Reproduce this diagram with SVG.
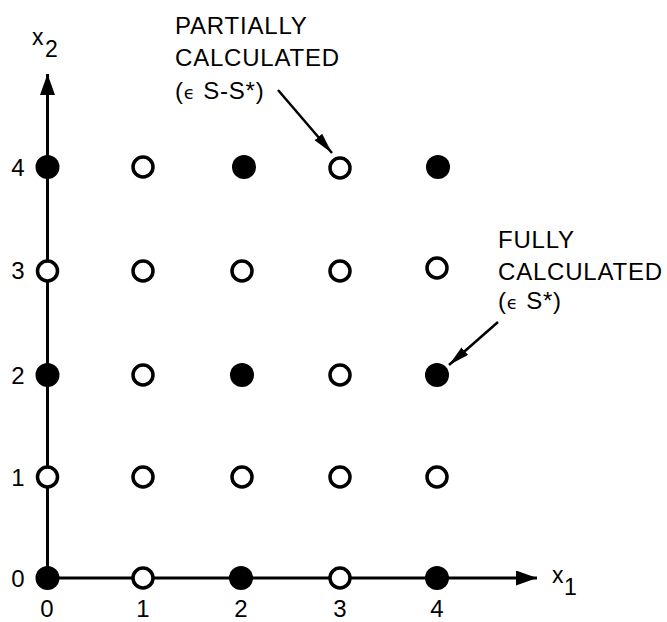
<svg xmlns="http://www.w3.org/2000/svg" width="667" height="622" viewBox="0 0 667 622">
  <style>
    .axis { stroke: #000; stroke-width: 3; fill: none; }
    .pointer { stroke: #000; stroke-width: 2.5; fill: none; }
    .full { fill: #000; }
    .part { fill: #fff; stroke: #000; stroke-width: 3.5; }
    text { font-family: "Liberation Sans", Arial, sans-serif; fill: #000; }
    .tick { font-size: 24px; text-anchor: middle; }
    .lbl { font-size: 24px; letter-spacing: 0.8px; }
    .var { font-size: 23px; }
    .elem { font-family: "DejaVu Sans", sans-serif; font-size: 18px; }
  </style>
  <defs>
    <marker id="axisHead" markerUnits="userSpaceOnUse" markerWidth="22" markerHeight="16" refX="21" refY="7.5" orient="auto">
      <path d="M0,0 L21,7.5 L0,15 z" fill="#000"/>
    </marker>
    <marker id="pointHead" markerUnits="userSpaceOnUse" markerWidth="22" markerHeight="11" refX="21" refY="5" orient="auto">
      <path d="M0,0 L21,5 L0,10 z" fill="#000"/>
    </marker>
  </defs>

  <!-- axes and pointer arrows -->
  <g id="connectors">
    <line class="axis" x1="47.5" y1="578" x2="47.5" y2="74" marker-end="url(#axisHead)"/>
    <line class="axis" x1="47.5" y1="578" x2="537" y2="578" marker-end="url(#axisHead)"/>
    <line class="pointer" x1="278" y1="90" x2="332" y2="153" marker-end="url(#pointHead)"/>
    <line class="pointer" x1="498" y1="322" x2="449" y2="365" marker-end="url(#pointHead)"/>
  </g>

  <!-- axis titles -->
  <g id="axis-x2">
    <text class="var" x="32" y="45">x</text>
    <text class="var" x="45" y="57">2</text>
  </g>
  <g id="axis-x1">
    <text class="var" x="552" y="583">x</text>
    <text class="var" x="564" y="595">1</text>
  </g>

  <!-- tick labels -->
  <g id="ticks-x2">
    <text class="tick" x="18" y="176">4</text>
    <text class="tick" x="18" y="279">3</text>
    <text class="tick" x="18" y="384">2</text>
    <text class="tick" x="18" y="486">1</text>
    <text class="tick" x="18" y="587">0</text>
  </g>
  <g id="ticks-x1">
    <text class="tick" x="47" y="617">0</text>
    <text class="tick" x="143" y="617">1</text>
    <text class="tick" x="241" y="617">2</text>
    <text class="tick" x="340" y="617">3</text>
    <text class="tick" x="437" y="617">4</text>
  </g>

  <!-- grid points: row x2 = 4 -->
  <g id="row-4">
    <circle class="full" cx="47.5" cy="167" r="12"/>
    <circle class="part" cx="143" cy="167" r="10"/>
    <circle class="full" cx="244" cy="167" r="12"/>
    <circle class="part" cx="340" cy="168" r="10"/>
    <circle class="full" cx="438" cy="167" r="12"/>
  </g>
  <g id="row-3">
    <circle class="part" cx="47.5" cy="271" r="10"/>
    <circle class="part" cx="143" cy="271" r="10"/>
    <circle class="part" cx="242" cy="271" r="10"/>
    <circle class="part" cx="340" cy="271" r="10"/>
    <circle class="part" cx="437" cy="268" r="10"/>
  </g>
  <g id="row-2">
    <circle class="full" cx="47.5" cy="375" r="12"/>
    <circle class="part" cx="143" cy="375" r="10"/>
    <circle class="full" cx="242" cy="375" r="12"/>
    <circle class="part" cx="340" cy="375" r="10"/>
    <circle class="full" cx="437" cy="375" r="12"/>
  </g>
  <g id="row-1">
    <circle class="part" cx="47.5" cy="477" r="10"/>
    <circle class="part" cx="143" cy="477" r="10"/>
    <circle class="part" cx="242" cy="477" r="10"/>
    <circle class="part" cx="340" cy="477" r="10"/>
    <circle class="part" cx="437" cy="477" r="10"/>
  </g>
  <g id="row-0">
    <circle class="full" cx="47.5" cy="578" r="12"/>
    <circle class="part" cx="143" cy="578" r="10"/>
    <circle class="full" cx="241" cy="578" r="12"/>
    <circle class="part" cx="340" cy="578" r="10"/>
    <circle class="full" cx="437" cy="578" r="12"/>
  </g>

  <!-- legend labels -->
  <g id="label-partial">
    <text class="lbl" x="175" y="34">PARTIALLY</text>
    <text class="lbl" x="175" y="66">CALCULATED</text>
    <text class="lbl" x="175" y="99">(<tspan class="elem">ϵ</tspan> S-S*)</text>
  </g>
  <g id="label-full">
    <text class="lbl" x="498" y="248">FULLY</text>
    <text class="lbl" x="498" y="280">CALCULATED</text>
    <text class="lbl" x="498" y="309">(<tspan class="elem">ϵ</tspan> S*)</text>
  </g>
</svg>
